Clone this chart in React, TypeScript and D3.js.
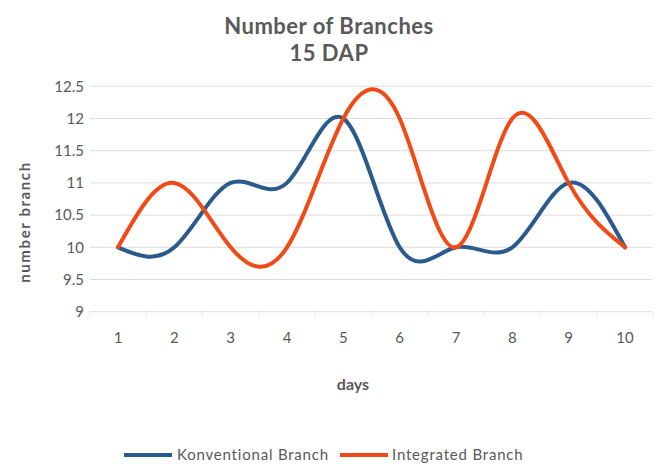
import React from "react";
import * as d3 from "d3";

const days = [1, 2, 3, 4, 5, 6, 7, 8, 9, 10];
const konventional = [10, 10, 11, 11, 12, 10, 10, 10, 11, 10];
const integrated = [10, 11, 10, 10, 12, 12, 10, 12, 11, 10];
const yTicks = [9, 9.5, 10, 10.5, 11, 11.5, 12, 12.5];

const W = 659;
const H = 466;
const TEXT = "#595959";
const BLUE = "#2B5B8C";
const ORANGE = "#F24A16";
const FONT = "Lato, 'Open Sans', sans-serif";

export default function App() {
  const plotLeft = 90;
  const plotRight = 652;
  const x = d3.scalePoint<number>().domain(days).range([118, 625]);
  const y = d3.scaleLinear().domain([9, 12.5]).range([311.7, 86.3]);

  // natural cubic spline through each series
  const line = d3
    .line<number>()
    .x((_, i) => x(days[i]) as number)
    .y((d) => y(d))
    .curve(d3.curveNatural);

  const series = [
    { name: "Konventional Branch", values: konventional, color: BLUE },
    { name: "Integrated Branch", values: integrated, color: ORANGE },
  ];

  const step = x.step();
  const tickXs = d3.range(days.length + 1).map((i) => (x(days[0]) as number) - step / 2 + i * step);

  return (
    <svg
      width={W}
      height={H}
      style={{ position: "absolute", left: 0, top: 0, background: "#fff" }}
      fontFamily={FONT}
    >
      <rect width={W} height={H} fill="#fff" />
      <g fontSize={22} fontWeight="bold" fill={TEXT} textAnchor="middle" letterSpacing={0.5}>
        <text x={329} y={34}>Number of Branches</text>
        <text x={329} y={61}>15 DAP</text>
      </g>

      {yTicks.map((t) => (
        <g key={t}>
          <line x1={plotLeft} x2={plotRight} y1={y(t)} y2={y(t)} stroke="#DDDDDD" strokeWidth={1} />
          <text x={84} y={y(t)} dy="0.35em" textAnchor="end" fontSize={15} fill={TEXT}>
            {t}
          </text>
        </g>
      ))}

      {tickXs.map((tx, i) => (
        <line key={i} x1={tx} x2={tx} y1={y(9)} y2={y(9) + 5} stroke="#EAEAEA" strokeWidth={1} />
      ))}

      {days.map((d) => (
        <text key={d} x={x(d) as number} y={338} dy="0.35em" textAnchor="middle" fontSize={15} fill={TEXT}>
          {d}
        </text>
      ))}

      <text
        transform={`translate(25,222) rotate(-90)`}
        textAnchor="middle"
        dy="0.35em"
        fontSize={15}
        fontWeight="bold"
        letterSpacing={1.6}
        fill={TEXT}
      >
        number branch
      </text>
      <text x={353} y={384} dy="0.35em" textAnchor="middle" fontSize={16} fontWeight="bold" fill={TEXT}>
        days
      </text>

      {series.map((s) => (
        <path
          key={s.name}
          d={line(s.values) ?? ""}
          fill="none"
          stroke={s.color}
          strokeWidth={4}
          strokeLinecap="round"
          strokeLinejoin="round"
        />
      ))}

      <g fontSize={15} fill={TEXT} letterSpacing={0.8}>
        <line x1={124} x2={172} y1={455} y2={455} stroke={BLUE} strokeWidth={4} />
        <text x={177} y={455} dy="0.35em">
          Konventional Branch
        </text>
        <line x1={340} x2={388} y1={455} y2={455} stroke={ORANGE} strokeWidth={4} />
        <text x={392} y={455} dy="0.35em">
          Integrated Branch
        </text>
      </g>
    </svg>
  );
}
